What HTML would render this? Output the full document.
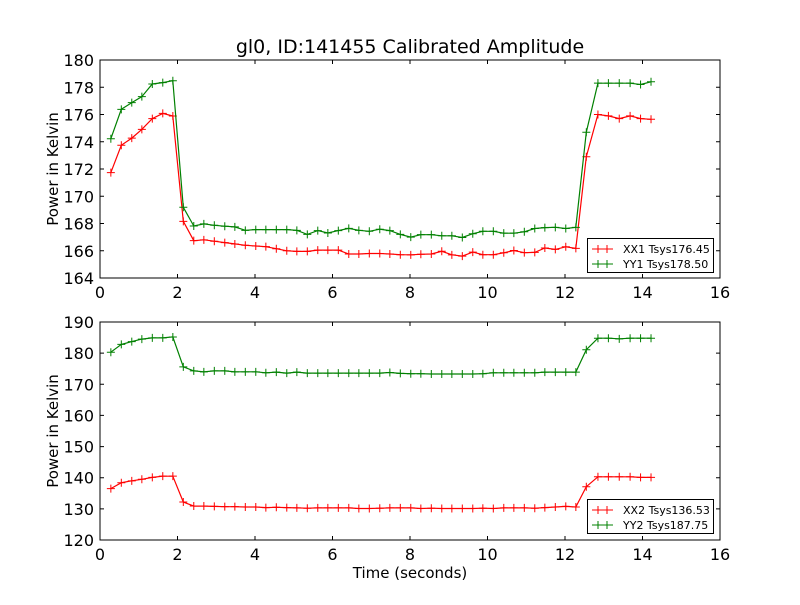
<!DOCTYPE html>
<html><head><meta charset="utf-8"><style>
body{margin:0;background:#fff;width:800px;height:600px;overflow:hidden}
svg{font-family:"DejaVu Sans","Liberation Sans",sans-serif}
</style></head><body>
<svg id="chart" width="800" height="600"></svg>
<script>
const xs = [0.28,0.55,0.82,1.08,1.35,1.62,1.88,2.15,2.42,2.68,2.95,3.22,3.48,3.75,4.02,4.28,4.55,4.82,5.08,5.35,5.62,5.88,6.15,6.42,6.68,6.95,7.22,7.48,7.75,8.02,8.28,8.55,8.82,9.08,9.35,9.62,9.88,10.15,10.42,10.68,10.95,11.22,11.48,11.75,12.02,12.28,12.55,12.85,13.12,13.4,13.68,13.95,14.22];
const xx1 = [171.73,173.74,174.27,174.91,175.7,176.08,175.89,168.16,166.74,166.8,166.7,166.6,166.5,166.4,166.35,166.3,166.15,166.0,165.95,165.95,166.05,166.05,166.05,165.76,165.76,165.8,165.8,165.76,165.71,165.7,165.74,165.76,165.96,165.7,165.61,165.9,165.71,165.71,165.85,166.02,165.86,165.88,166.2,166.1,166.29,166.17,172.9,176.0,175.9,175.7,175.9,175.7,175.65];
const yy1 = [174.22,176.38,176.87,177.31,178.24,178.34,178.48,169.19,167.82,167.97,167.87,167.8,167.75,167.5,167.55,167.55,167.55,167.55,167.5,167.2,167.48,167.3,167.48,167.64,167.5,167.43,167.58,167.48,167.2,167.0,167.18,167.18,167.1,167.1,166.97,167.25,167.43,167.43,167.29,167.29,167.39,167.63,167.7,167.72,167.63,167.72,174.7,178.3,178.3,178.3,178.3,178.2,178.4];
const xx2 = [136.5,138.4,139.0,139.5,140.1,140.5,140.5,132.2,130.9,130.9,130.8,130.7,130.7,130.6,130.6,130.4,130.5,130.4,130.3,130.2,130.3,130.3,130.3,130.3,130.1,130.1,130.2,130.3,130.3,130.3,130.1,130.2,130.1,130.1,130.1,130.1,130.2,130.1,130.3,130.3,130.3,130.2,130.4,130.6,130.8,130.6,137.1,140.3,140.3,140.3,140.3,140.1,140.1];
const yy2 = [180.3,182.8,183.7,184.5,184.9,184.9,185.2,175.6,174.3,174.0,174.3,174.3,174.0,174.0,174.0,173.7,173.9,173.6,173.9,173.6,173.6,173.6,173.6,173.6,173.6,173.6,173.6,173.8,173.5,173.4,173.4,173.3,173.3,173.3,173.3,173.3,173.4,173.7,173.7,173.7,173.7,173.7,173.9,173.9,173.9,173.9,181.1,184.8,184.8,184.6,184.8,184.8,184.8];
const xTicks = [0,2,4,6,8,10,12,14,16];
const y1Ticks = [164,166,168,170,172,174,176,178,180];
const y2Ticks = [120,130,140,150,160,170,180,190];
const legend1 = ["XX1 Tsys176.45","YY1 Tsys178.50"];
const legend2 = ["XX2 Tsys136.53","YY2 Tsys187.75"];

const NS = "http://www.w3.org/2000/svg";
const svg = document.getElementById('chart');
function mk(tag, attrs, parent){const e=document.createElementNS(NS,tag);for(const k in attrs)e.setAttribute(k,attrs[k]);(parent||svg).appendChild(e);return e;}

function panel(top, bottom, ymin, ymax, yTicks, s1, s2, leg, name, legTop, showX){
  const L=100,R=720;
  const g=mk('g',{});
  
  
  const xf=v=>L+(v-0)/16*(R-L);
  const yf=v=>bottom-(v-ymin)/(ymax-ymin)*(bottom-top);
  const series=[[s1,'#ff0000','red'],[s2,'#008000','green']];
  series.forEach(([arr,col,cn],si)=>{
    const pts=arr.map((v,i)=>xf(xs[i]).toFixed(1)+','+yf(v).toFixed(1)).join(' ');
    const pl=mk('polyline',{points:pts,fill:'none',stroke:col,'stroke-width':1.2},g);
    
    
    arr.forEach((v,i)=>{
      const x=xf(xs[i]),y=yf(v);
      const m=mk('path',{d:`M${x-4},${y}H${x+4}M${x},${y-4}V${y+4}`,stroke:col,'stroke-width':1},g);
      
      
    });
  });
  mk('rect',{x:L,y:top,width:R-L,height:bottom-top,fill:'none',stroke:'#000','stroke-width':1},g);
  xTicks.forEach(t=>{
    const x=xf(t);
    mk('path',{d:`M${x},${bottom}v-4M${x},${top}v4`,stroke:'#000'},g);
    const tx=mk('text',{x:x,y:bottom+20,'font-size':16,'text-anchor':'middle'},g);
    tx.textContent=t;
    
    
  });
  yTicks.forEach(t=>{
    const y=yf(t);
    mk('path',{d:`M${L},${y}h4M${R},${y}h-4`,stroke:'#000'},g);
    const tx=mk('text',{x:L-6,y:y+6,'font-size':16,'text-anchor':'end'},g);
    tx.textContent=t;
    
    
  });
  const yl=mk('text',{x:0,y:0,'font-size':15,'text-anchor':'middle',transform:`translate(58,${(top+bottom)/2}) rotate(-90)`},g);
  yl.textContent='Power in Kelvin';
  
  
  const lg=mk('g',{},g);
  
  
  mk('rect',{x:587.5,y:legTop+0.5,width:126,height:34,fill:'#fff',stroke:'#000'},lg);
  leg.forEach((txt,i)=>{
    const col=i?'#008000':'#ff0000';
    const y=legTop+11+i*15;
    mk('path',{d:`M592,${y}H613M598,${y-4}v8M607,${y-4}v8`,stroke:col},lg);
    const t=mk('text',{x:623,y:y+4,'font-size':11},lg);
    t.textContent=txt;
    
    
  });
}
panel(60,278,164,180,y1Ticks,xx1,yy1,legend1,'top-panel',238);
panel(322,540,120,190,y2Ticks,xx2,yy2,legend2,'bottom-panel',499);

const title=mk('text',{x:410,y:53,'font-size':19,'text-anchor':'middle'});
title.textContent='gl0, ID:141455 Calibrated Amplitude';


const xl=mk('text',{x:410,y:578,'font-size':15,'text-anchor':'middle'});
xl.textContent='Time (seconds)';


</script>
</body></html>
